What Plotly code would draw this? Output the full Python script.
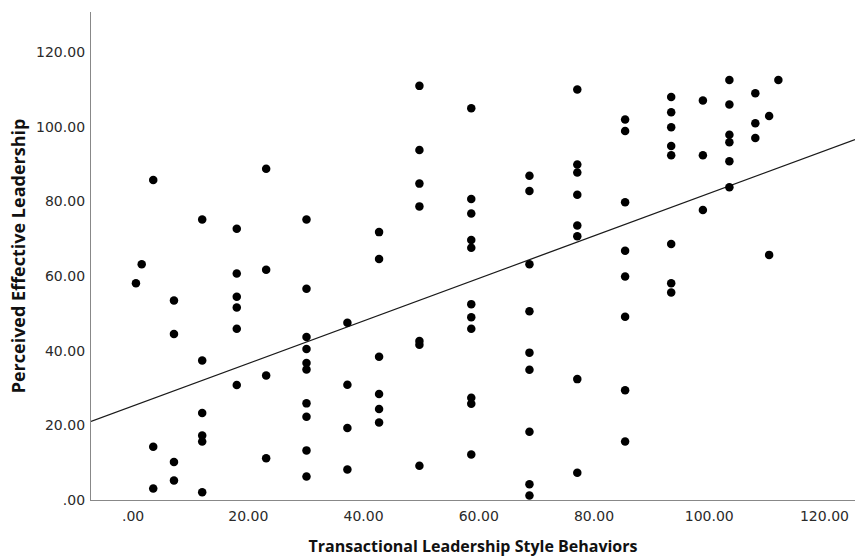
import numpy as np
import plotly.graph_objects as go

# Transactional Leadership Style Behaviors (x) and Perceived Effective Leadership (y)
x_values = [
    3.5, 23.1, 12.0, 18.0, 1.5, 18.0, 23.1, 0.5, 7.1, 18.0, 18.0, 18.0, 7.1, 12.0, 18.0, 23.1,
    12.0, 12.0, 12.0, 3.5, 7.1, 23.1, 7.1, 3.5, 12.0,
    30.1, 30.1, 30.1, 30.1, 30.1, 30.1, 30.1, 30.1, 30.1, 30.1,
    37.2, 37.2, 37.2, 37.2,
    42.7, 42.7, 42.7, 42.7, 42.7, 42.7,
    49.7, 49.7, 49.7, 49.7, 49.7, 49.7, 49.7,
    58.7, 58.7, 58.7, 58.7, 58.7, 58.7, 58.7, 58.7, 58.7, 58.7, 58.7,
    68.8, 68.8, 68.8, 68.8, 68.8, 68.8, 68.8, 68.8, 68.8,
    77.1, 77.1, 77.1, 77.1, 77.1, 77.1, 77.1, 77.1,
    85.4, 85.4, 85.4, 85.4, 85.4, 85.4, 85.4, 85.4,
    93.4, 93.4, 93.4, 93.4, 93.4, 93.4, 93.4, 93.4,
    98.9, 98.9, 98.9,
    103.5, 103.5, 103.5, 103.5, 103.5, 103.5,
    108.0, 108.0, 108.0,
    110.4, 110.4,
    112.0,
]
y_values = [
    85.8, 88.8, 75.2, 72.7, 63.2, 60.7, 61.7, 58.1, 53.5, 54.5, 51.6, 45.9, 44.5, 37.4, 30.8, 33.4,
    23.3, 17.3, 15.7, 14.3, 10.2, 11.2, 5.2, 3.1, 2.1,
    75.2, 56.6, 43.7, 40.5, 36.7, 35.0, 25.9, 22.3, 13.3, 6.3,
    47.5, 30.9, 19.3, 8.2,
    71.8, 64.6, 38.4, 28.4, 24.4, 20.8,
    111.0, 93.8, 84.8, 78.7, 42.6, 41.6, 9.2,
    105.0, 80.7, 76.8, 69.7, 67.6, 52.5, 49.0, 45.9, 27.4, 25.8, 12.2,
    86.9, 82.8, 63.2, 50.6, 39.5, 34.9, 18.3, 4.2, 1.2,
    110.0, 89.9, 87.8, 81.8, 73.6, 70.7, 32.4, 7.3,
    102.0, 98.9, 79.8, 66.8, 59.9, 49.1, 29.4, 15.7,
    108.0, 103.9, 99.9, 94.9, 92.4, 68.6, 58.1, 55.6,
    107.1, 92.4, 77.7,
    112.6, 106.0, 97.9, 95.9, 90.8, 83.8,
    109.0, 101.0, 97.0,
    102.9, 65.7,
    112.6,
]

# Fit line as drawn in the reference
fit_intercept = 25.2
fit_slope = 0.57
x_min, x_max = -7.3, 125.3
y_max = 130.8

x_ticks = [0, 20, 40, 60, 80, 100, 120]
x_tick_text = [".00", "20.00", "40.00", "60.00", "80.00", "100.00", "120.00"]
y_ticks = [0, 20, 40, 60, 80, 100, 120]
y_tick_text = [".00", "20.00", "40.00", "60.00", "80.00", "100.00", "120.00"]

line_x = [x_min, x_max]
line_y = [fit_intercept + fit_slope * v for v in line_x]

fig = go.Figure()
fig.add_trace(go.Scatter(
    x=line_x, y=line_y, mode="lines",
    line=dict(color="#1a1a1a", width=1.3), hoverinfo="skip",
))
fig.add_trace(go.Scatter(
    x=x_values, y=y_values, mode="markers",
    marker=dict(color="black", size=8.5, line=dict(width=0)),
))

tick_font = dict(family="DejaVu Sans, sans-serif", size=14, color="#2a2a2a")

fig.update_layout(
    width=855, height=558,
    margin=dict(l=91, r=0, t=12, b=58),
    plot_bgcolor="white", paper_bgcolor="white",
    showlegend=False,
    xaxis=dict(
        range=[x_min, x_max], tickvals=x_ticks, ticktext=x_tick_text,
        showgrid=False, zeroline=False, showline=True, linecolor="#888888", linewidth=1.3,
        ticks="", tickfont=tick_font, ticklabelstandoff=3, automargin=False,
        title=dict(text="<b>Transactional Leadership Style Behaviors</b>",
                   font=dict(family="Open Sans, sans-serif", size=16, color="#111111"), standoff=17),
    ),
    yaxis=dict(
        range=[0, y_max], tickvals=y_ticks, ticktext=y_tick_text,
        showgrid=False, zeroline=False, showline=True, linecolor="#888888", linewidth=1.3,
        ticks="", tickfont=tick_font, ticklabelstandoff=2, automargin=False,
        title=dict(text="<b>Perceived Effective Leadership</b>",
                   font=dict(family="Open Sans, sans-serif", size=18, color="#111111"), standoff=5),
    ),
)

# remove the default page margin so the figure fills the window exactly
fig.write_html(
    "out.html",
    config={"displayModeBar": False},
    post_script="document.body.style.margin='0';document.documentElement.style.overflow='hidden';",
)
